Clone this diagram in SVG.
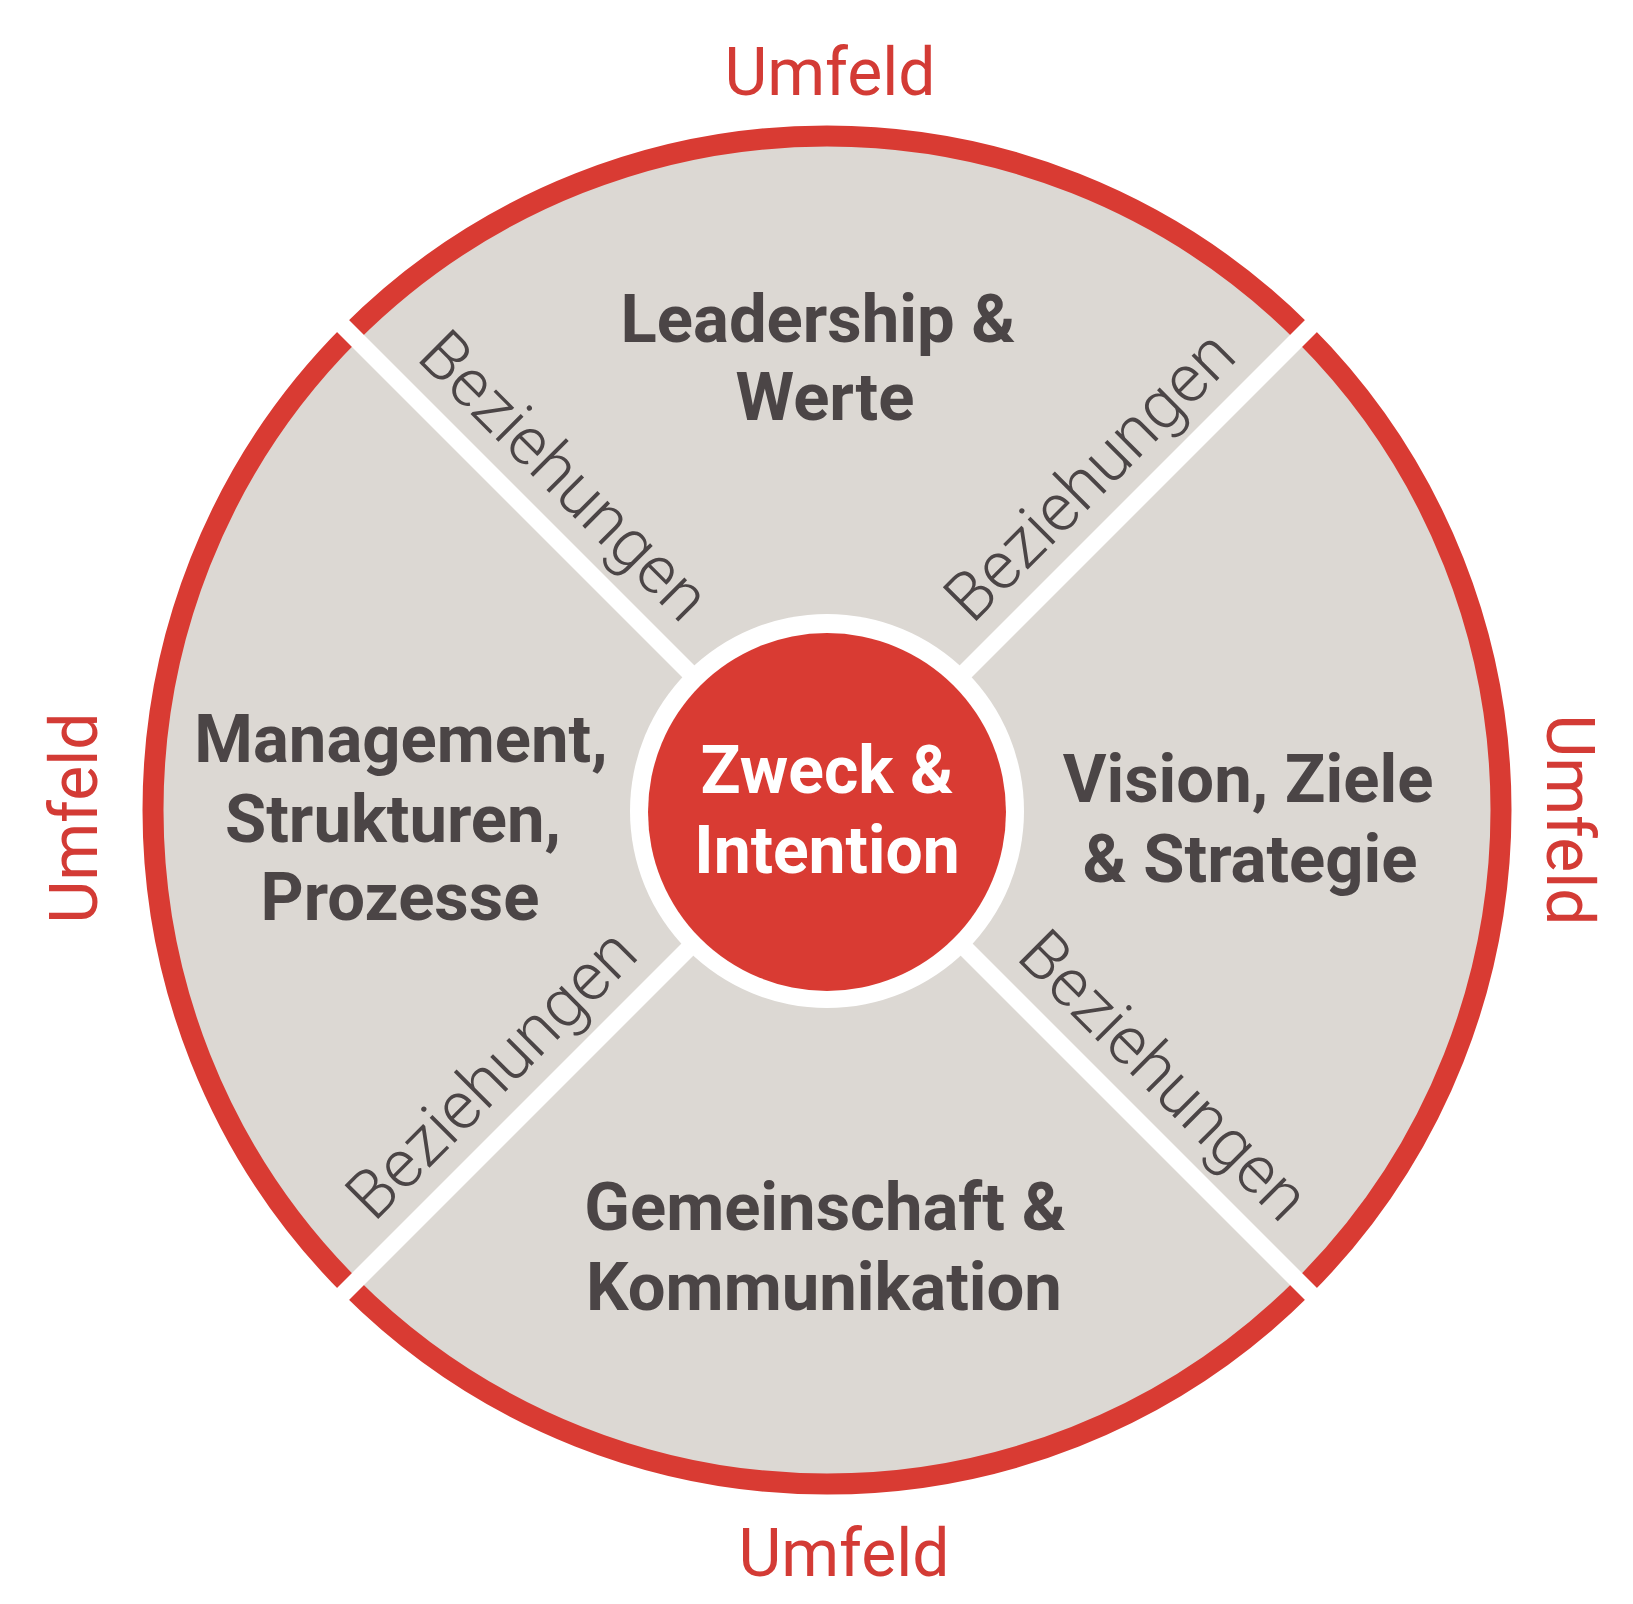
<svg xmlns="http://www.w3.org/2000/svg" width="1633" height="1604" viewBox="0 0 1633 1604">
  <style>
    .umf { font-family: Roboto, "Liberation Sans", sans-serif; font-size: 66px; fill: #d33b35; text-anchor: middle; }
    .lbl { font-family: Roboto, "Liberation Sans", sans-serif; font-weight: 700; font-size: 67px; fill: #4b4546; text-anchor: middle; }
    .core { font-family: Roboto, "Liberation Sans", sans-serif; font-weight: 700; font-size: 66px; fill: #ffffff; text-anchor: middle; }
    .bez { font-family: Roboto, "Liberation Sans", sans-serif; font-weight: 300; font-size: 67px; fill: #4b4546; text-anchor: middle; }
  </style>
  <rect width="1633" height="1604" fill="#ffffff"/>
  <g id="ring">
    <circle cx="827" cy="810" r="674" fill="#dcd8d3" stroke="#d93b33" stroke-width="21"/>
  </g>
  <g id="connectors" stroke="#ffffff" stroke-width="17">
    <line x1="827" y1="810" x2="317" y2="300"/>
    <line x1="827" y1="810" x2="1337" y2="300"/>
    <line x1="827" y1="810" x2="317" y2="1320"/>
    <line x1="827" y1="810" x2="1337" y2="1320"/>
  </g>
  <g id="beziehungen">
    <text class="bez" transform="translate(827,810) rotate(45)" x="-422" y="-28">Beziehungen</text>
    <text class="bez" transform="translate(827,810) rotate(-45)" x="422" y="-28">Beziehungen</text>
    <text class="bez" transform="translate(827,810) rotate(-45)" x="-424" y="-28">Beziehungen</text>
    <text class="bez" transform="translate(827,810) rotate(45)" x="426" y="-28">Beziehungen</text>
  </g>
  <g id="node-leadership">
    <text class="lbl" x="818" y="342">Leadership &amp;</text>
    <text class="lbl" x="825" y="420">Werte</text>
  </g>
  <g id="node-management">
    <text class="lbl" x="401" y="762">Management,</text>
    <text class="lbl" x="393" y="842">Strukturen,</text>
    <text class="lbl" x="400" y="920">Prozesse</text>
  </g>
  <g id="node-vision">
    <text class="lbl" x="1248" y="802">Vision, Ziele</text>
    <text class="lbl" x="1250" y="882">&amp; Strategie</text>
  </g>
  <g id="node-gemeinschaft">
    <text class="lbl" x="825" y="1230">Gemeinschaft &amp;</text>
    <text class="lbl" x="824" y="1310">Kommunikation</text>
  </g>
  <g id="node-zweck">
    <circle cx="827" cy="811" r="197" fill="#ffffff"/>
    <circle cx="827" cy="812" r="179" fill="#d93b33"/>
    <text class="core" x="827" y="793">Zweck &amp;</text>
    <text class="core" x="827" y="873">Intention</text>
  </g>
  <g id="umfeld">
    <text class="umf" x="830" y="95">Umfeld</text>
    <text class="umf" x="844" y="1576">Umfeld</text>
    <text class="umf" transform="translate(97,818) rotate(-90)">Umfeld</text>
    <text class="umf" transform="translate(1547,820) rotate(90)">Umfeld</text>
  </g>
</svg>
